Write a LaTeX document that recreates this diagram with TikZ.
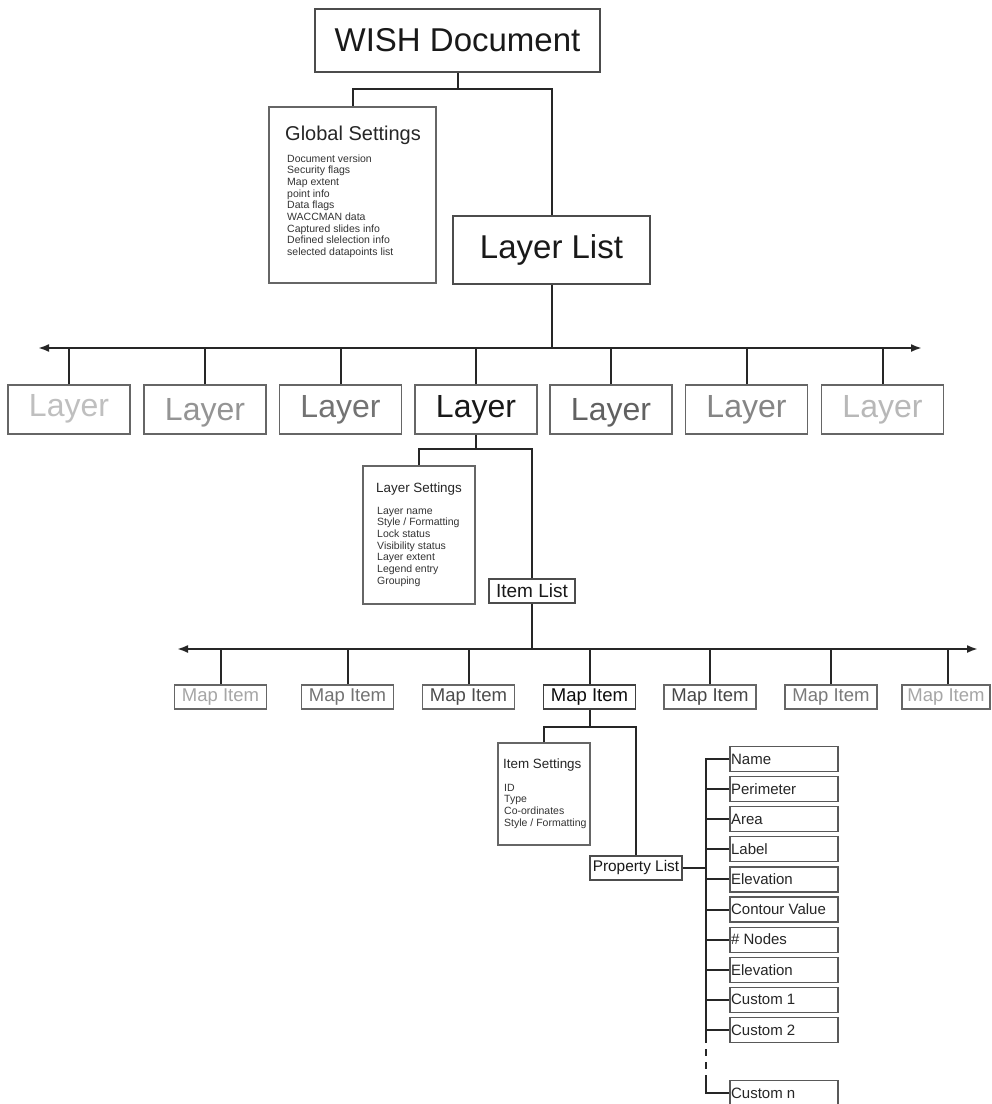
\documentclass[tikz,border=0pt]{standalone}
\usepackage{fontspec}
\setmainfont{Liberation Sans}
\usetikzlibrary{arrows.meta}
\begin{document}
\begin{tikzpicture}[x=1pt,y=-1pt,
  conn/.style={draw=black!85, line width=2pt},
  bar/.style={conn, {Latex[length=11pt,width=8pt]}-{Latex[length=11pt,width=8pt]}},
  box/.style={draw=black!60, line width=1.2pt, inner sep=0pt, rectangle, fill=white},
  bigbox/.style={box, draw=black!70, font=\fontsize{33}{36}\selectfont, text=black!90},
  layerbox/.style={box, minimum width=122pt, minimum height=49pt},
  layertext/.style={inner sep=0pt, font=\fontsize{32}{34}\selectfont},
  mapbox/.style={box, minimum width=92pt, minimum height=24pt, font=\fontsize{18.5}{20}\selectfont},
  propbox/.style={box, draw=black!65, minimum width=108pt, minimum height=25pt},
  proptext/.style={anchor=west, inner sep=0pt, font=\fontsize{15}{16}\selectfont, text=black!85},
  settitle/.style={anchor=base west, inner sep=0pt, text=black!85},
  setitem/.style={anchor=base west, inner sep=0pt, font=\fontsize{10.5}{11}\selectfont, text=black!80}
]
\useasboundingbox (0,0) rectangle (992,1104);

% top level
\node[bigbox, minimum width=285pt, minimum height=63pt] (wish) at (457.5,40.5) {WISH Document};
\node[box, minimum width=167pt, minimum height=176pt] (glob) at (352.5,195) {};
\node[settitle, font=\fontsize{20}{22}\selectfont] (globt) at (285,140) {Global Settings};
\foreach \t [count=\i from 0] in {Document version,Security flags,Map extent,point info,Data flags,WACCMAN data,Captured slides info,Defined slelection info,selected datapoints list}
  \node[setitem] (gi\i) at (287,162+11.7*\i) {\t};
\node[bigbox, minimum width=197pt, minimum height=68pt] (ll) at (551.5,250) {Layer List};

\coordinate (j1) at (457.5,89);
\draw[conn] (wish.south) -- (j1);
\draw[conn] (glob.north) |- (j1) -| (ll.north);

% layer bar
\coordinate (b1L) at (38,348);
\coordinate (b1R) at (922,348);
\draw[bar] (b1L) -- (b1R);
\draw[conn] (ll.south) -- (ll.south |- b1L);

\node[layerbox] (L1) at (69,409.5) {};
\node[layerbox] (L2) at (205,409.5) {};
\node[layerbox] (L3) at (340.5,409.5) {};
\node[layerbox] (L4) at (476,409.5) {};
\node[layerbox] (L5) at (611,409.5) {};
\node[layerbox] (L6) at (746.5,409.5) {};
\node[layerbox] (L7) at (882.5,409.5) {};
\node[layertext, text=black!25] (lt1) at ([yshift=1pt]L1.center) {Layer};
\node[layertext, text=black!42] (lt2) at ([yshift=-3pt]L2.center) {Layer};
\node[layertext, text=black!55] (lt3) at (L3.center) {Layer};
\node[layertext, text=black!90] (lt4) at (L4.center) {Layer};
\node[layertext, text=black!62] (lt5) at ([yshift=-3pt]L5.center) {Layer};
\node[layertext, text=black!48] (lt6) at (L6.center) {Layer};
\node[layertext, text=black!28] (lt7) at (L7.center) {Layer};
\foreach \k in {1,...,7}
  \draw[conn] (L\k.north) -- (L\k.north |- b1L);

% layer settings
\node[box, minimum width=112pt, minimum height=138pt] (ls) at (419,535) {};
\node[settitle, font=\fontsize{13.4}{15}\selectfont] (lst) at (376,492) {Layer Settings};
\foreach \t [count=\i from 0] in {Layer name,Style / Formatting,Lock status,Visibility status,Layer extent,Legend entry,Grouping}
  \node[setitem] (li\i) at (377,514+11.7*\i) {\t};
\node[box, draw=black!70, minimum width=86pt, minimum height=24pt, font=\fontsize{19}{20}\selectfont, text=black!90] (il) at (532,591) {Item List};

\coordinate (j2) at (476,449);
\draw[conn] (L4.south) -- (j2);
\draw[conn] (ls.north) |- (j2) -| (il.north);

% map item bar
\coordinate (b2L) at (177,649);
\coordinate (b2R) at (978,649);
\draw[bar] (b2L) -- (b2R);
\draw[conn] (il.south) -- (il.south |- b2L);

\node[mapbox, text=black!35] (M1) at (220.5,697) {Map Item};
\node[mapbox, text=black!55] (M2) at (347.5,697) {Map Item};
\node[mapbox, text=black!70] (M3) at (468.5,697) {Map Item};
\node[mapbox, draw=black!75, text=black!95] (M4) at (589.5,697) {Map Item};
\node[mapbox, text=black!72] (M5) at (710,697) {Map Item};
\node[mapbox, text=black!52] (M6) at (831,697) {Map Item};
\node[mapbox, minimum width=88pt, text=black!35] (M7) at (946,697) {Map Item};
\draw[conn] (M1.north) -- (M1.north |- b2L);
\draw[conn] (M2.north) -- (M2.north |- b2L);
\draw[conn] (M3.north) -- (M3.north |- b2L);
\draw[conn] (M4.north) -- (M4.north |- b2L);
\draw[conn] (M5.north) -- (M5.north |- b2L);
\draw[conn] (M6.north) -- (M6.north |- b2L);
\draw[conn] ([xshift=2pt]M7.north) -- ([xshift=2pt]M7.north |- b2L);

% item settings
\node[box, minimum width=92pt, minimum height=102pt] (is) at (544,794) {};
\node[settitle, font=\fontsize{13.4}{15}\selectfont] (ist) at (503,768) {Item Settings};
\foreach \t [count=\i from 0] in {ID,Type,Co-ordinates,Style / Formatting}
  \node[setitem] (ii\i) at (504,791+11.7*\i) {\t};
\node[box, draw=black!70, minimum width=92pt, minimum height=24pt, font=\fontsize{15.4}{17}\selectfont, text=black!90] (pl) at (636,868) {Property List};

\coordinate (j3) at (589.5,727);
\draw[conn] (M4.south) -- (j3);
\draw[conn] (is.north) |- (j3) -| (pl.north);

% properties
\foreach \t [count=\i from 1] in {Name,Perimeter,Area,Label,Elevation,Contour Value,\# Nodes,Elevation,Custom 1,Custom 2}{
  \node[propbox] (p\i) at (784,{759+30.1*(\i-1)}) {};
  \node[proptext] (pt\i) at ([xshift=1.5pt]p\i.west) {\t};
}
\node[propbox] (pn) at (784,1093) {};
\node[proptext] (ptn) at ([xshift=1.5pt]pn.west) {Custom n};

\coordinate (s1) at (706,1036);
\coordinate (s2) at (706,1075);
\draw[conn] (p1.west) -| (s1);
\draw[conn, dash pattern=on 7pt off 6pt] (s1) -- (s2);
\draw[conn] (s2) |- (pn.west);
\foreach \i in {2,...,10}
  \draw[conn] (p\i.west) -- (p\i.west -| s1);
\draw[conn] (pl.east) -- (pl.east -| s1);
\end{tikzpicture}
\end{document}
